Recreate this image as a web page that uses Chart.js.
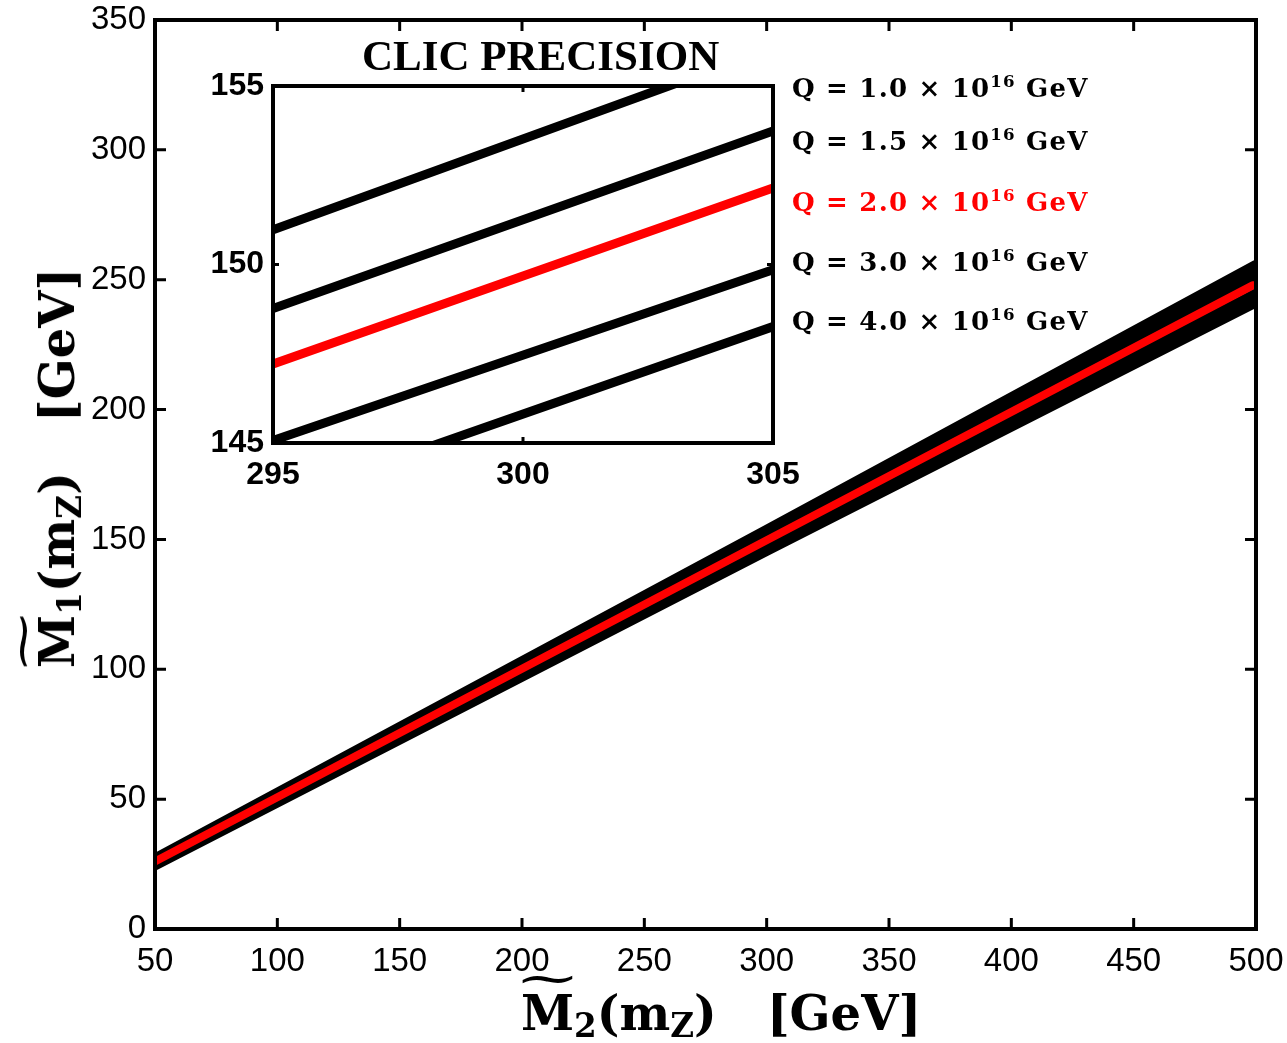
<!DOCTYPE html>
<html>
<head>
<meta charset="utf-8">
<script src="https://cdn.jsdelivr.net/npm/chart.js@4.4.1/dist/chart.umd.min.js"></script>
<style>
  body { margin:0; background:#fff; }
  #wrap { position:relative; width:1287px; height:1043px; overflow:hidden; background:#fff; }
  #wrap canvas { position:absolute; }
  .tx { position:absolute; white-space:nowrap; color:#000; font-family:"DejaVu Serif",serif; font-weight:bold; }
  .tx sub { font-size:0.68em; vertical-align:-0.22em; line-height:0; }
  .tx sup { font-size:0.64em; vertical-align:0.6em; line-height:0; }
  .tl { position:relative; display:inline-block; }
  .tl .w { position:absolute; left:0; right:0; top:-0.72em; text-align:center; font-weight:normal; transform:scaleX(1.65); }
  .leg { font-size:26px; line-height:26px; letter-spacing:1.2px; }
  .red { color:#ff0000; }
</style>
</head>
<body>
<div id="wrap">
  <canvas id="main" width="1287" height="1043" style="left:0;top:0;width:1287px;height:1043px"></canvas>
  <canvas id="inset" width="620" height="430" style="left:190px;top:70px;width:620px;height:430px"></canvas>

  <div class="tx" style="left:362px;top:34px;font-family:'Liberation Serif',serif;font-size:43px;line-height:43px">CLIC PRECISION</div>

  <div class="tx leg" style="left:792px;top:75px">Q = 1.0 × 10<sup>16</sup> GeV</div>
  <div class="tx leg" style="left:792px;top:128px">Q = 1.5 × 10<sup>16</sup> GeV</div>
  <div class="tx leg red" style="left:792px;top:189px">Q = 2.0 × 10<sup>16</sup> GeV</div>
  <div class="tx leg" style="left:792px;top:249px">Q = 3.0 × 10<sup>16</sup> GeV</div>
  <div class="tx leg" style="left:792px;top:308px">Q = 4.0 × 10<sup>16</sup> GeV</div>

  <div class="tx" id="xt" style="left:721px;top:989px;font-size:48px;line-height:48px;transform:translateX(-50%)"><span class="tl">M<span class="w">~</span></span><sub>2</sub>(m<sub>Z</sub>)&nbsp;&nbsp;&nbsp;[GeV]</div>
  <div class="tx" id="yt" style="left:57px;top:468px;font-size:48px;line-height:48px;transform:translate(-50%,-50%) rotate(-90deg)"><span class="tl">M<span class="w">~</span></span><sub>1</sub>(m<sub>Z</sub>)&nbsp;&nbsp;&nbsp;[GeV]</div>
</div>

<script>
// main panel: M1 vs M2 for each unification scale Q
const mainX = [50, 300, 500];
const q10 = [27.0, 153.5, 255.5];
const q15 = [26.5, 151.3, 252.0];
const q20 = [26.0, 149.7, 248.5];
const q30 = [25.3, 147.5, 244.5];
const q40 = [24.7, 145.8, 241.5];

// inset zoom, 295..305 GeV
const insetX = [295, 305];
const iq10 = [150.97, 156.06];
const iq15 = [148.77, 153.74];
const iq20 = [147.21, 152.14];
const iq30 = [145.07, 149.85];
const iq40 = [143.36, 148.26];

const seriesLabels = ['Q = 1.0e16', 'Q = 1.5e16', 'Q = 2.0e16', 'Q = 3.0e16', 'Q = 4.0e16'];
const seriesColors = ['#000', '#000', '#ff0000', '#000', '#000'];

const pts = (xs, ys) => xs.map((x, i) => ({x, y: ys[i]}));

// inward MATLAB-style ticks + box
const boxTicks = {
  id: 'boxTicks',
  afterDraw(chart, args, o) {
    const {ctx, chartArea: a, scales: {x, y}} = chart;
    ctx.save();
    ctx.strokeStyle = '#000';
    ctx.lineWidth = o.tickWidth;
    ctx.beginPath();
    x.ticks.forEach(t => {
      const p = x.getPixelForValue(t.value);
      ctx.moveTo(p, a.bottom); ctx.lineTo(p, a.bottom - o.len);
      ctx.moveTo(p, a.top); ctx.lineTo(p, a.top + o.len);
    });
    y.ticks.forEach(t => {
      const p = y.getPixelForValue(t.value);
      ctx.moveTo(a.left, p); ctx.lineTo(a.left + o.len, p);
      ctx.moveTo(a.right, p); ctx.lineTo(a.right - o.len, p);
    });
    ctx.stroke();
    ctx.lineWidth = o.boxWidth;
    ctx.strokeRect(a.left, a.top, a.right - a.left, a.bottom - a.top);
    ctx.restore();
  }
};

// pin axis sizes so the plot box lands where it should
const fixW = w => s => { s.width = w; s.paddingTop = 0; s.paddingBottom = 0; s.paddingLeft = 0; s.paddingRight = 0; };
const fixH = h => s => { s.height = h; s.paddingTop = 0; s.paddingBottom = 0; s.paddingLeft = 0; s.paddingRight = 0; };

function makeSets(xs, lists, bw, rw) {
  return lists.map((ys, i) => ({
    label: seriesLabels[i],
    data: pts(xs, ys),
    borderColor: seriesColors[i],
    backgroundColor: seriesColors[i],
    borderWidth: i === 2 ? rw : bw,
    pointRadius: 0,
    tension: 0,
    clip: 0,
    borderCapStyle: 'round',
    order: i === 2 ? 0 : 1
  }));
}

Chart.defaults.color = '#000';
const noGrid = { display: false, drawTicks: false };

new Chart(document.getElementById('main'), {
  type: 'line',
  data: { datasets: makeSets(mainX, [q10, q15, q20, q30, q40], 11, 8) },
  options: {
    responsive: false, animation: false, devicePixelRatio: 1,
    layout: { padding: { left: 0, right: 31, top: 20, bottom: 0 } },
    plugins: { legend: { display: false }, tooltip: { enabled: false }, boxTicks: { len: 11, tickWidth: 3, boxWidth: 4 } },
    scales: {
      x: {
        type: 'linear', min: 50, max: 500,
        grid: noGrid, border: { display: false },
        ticks: { stepSize: 50, padding: 13, maxRotation: 0, font: { family: 'Liberation Sans', size: 33 } },
        afterFit: fixH(114)
      },
      y: {
        type: 'linear', min: 0, max: 350,
        grid: noGrid, border: { display: false },
        ticks: { stepSize: 50, padding: 9, font: { family: 'Liberation Sans', size: 33 } },
        afterFit: fixW(155)
      }
    }
  },
  plugins: [boxTicks]
});

new Chart(document.getElementById('inset'), {
  type: 'line',
  data: { datasets: makeSets(insetX, [iq10, iq15, iq20, iq30, iq40], 9, 9) },
  options: {
    responsive: false, animation: false, devicePixelRatio: 1,
    layout: { padding: { left: 0, right: 37, top: 16, bottom: 0 } },
    plugins: { legend: { display: false }, tooltip: { enabled: false }, boxTicks: { len: 6, tickWidth: 3, boxWidth: 4 } },
    scales: {
      x: {
        type: 'linear', min: 295, max: 305,
        grid: noGrid, border: { display: false },
        ticks: { stepSize: 5, padding: 13, maxRotation: 0, font: { family: 'Liberation Sans', size: 32, weight: 'bold' } },
        afterFit: fixH(57)
      },
      y: {
        type: 'linear', min: 145, max: 155,
        grid: noGrid, border: { display: false },
        ticks: { stepSize: 5, padding: 9, font: { family: 'Liberation Sans', size: 32, weight: 'bold' } },
        afterFit: fixW(83)
      }
    }
  },
  plugins: [boxTicks]
});
</script>
</body>
</html>
